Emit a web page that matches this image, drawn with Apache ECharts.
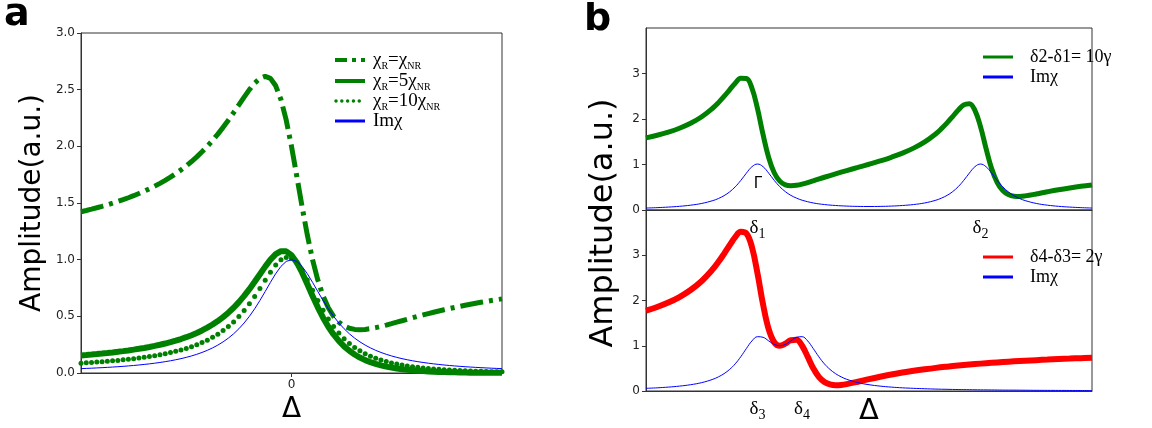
<!DOCTYPE html>
<html>
<head>
<meta charset="utf-8">
<script src="https://cdn.jsdelivr.net/npm/echarts@6/dist/echarts.min.js"></script>
<style>
html, body { margin: 0; padding: 0; background: #fff; }
#chart { width: 1152px; height: 428px; }
</style>
</head>
<body>
<div id="chart"></div>
<script>
// ---- panel a : detuning axis and the four curves
var xA = [-10,-9.75,-9.5,-9.25,-9,-8.75,-8.5,-8.25,-8,-7.75,-7.5,-7.25,-7,-6.75,-6.5,-6.25,-6,-5.75,-5.5,-5.25,
  -5,-4.75,-4.5,-4.25,-4,-3.75,-3.5,-3.25,-3,-2.75,-2.5,-2.25,-2,-1.75,-1.5,-1.25,-1,-0.75,-0.5,-0.25,
  0,0.25,0.5,0.75,1,1.25,1.5,1.75,2,2.25,2.5,2.75,3,3.25,3.5,3.75,4,4.25,4.5,4.75,
  5,5.25,5.5,5.75,6,6.25,6.5,6.75,7,7.25,7.5,7.75,8,8.25,8.5,8.75,9,9.25,9.5,9.75,10];
var aEqual = [1.4231,1.434,1.4456,1.4579,1.4707,1.4841,1.4985,1.5135,1.5294,1.5464,1.5644,1.5835,1.6039,1.6255,1.6487,1.6735,1.7,1.7285,1.7592,1.7921,
  1.8275,1.8658,1.9071,1.9519,2.0,2.0519,2.1078,2.1675,2.2307,2.2973,2.3658,2.4346,2.5,2.5576,2.6,2.6179,2.6,2.5343,2.4118,2.2308,
  2.0,1.7384,1.4706,1.2191,1.0,0.8203,0.68,0.5752,0.5,0.4482,0.4146,0.3945,0.3847,0.3819,0.3846,0.3911,0.4,0.4107,0.4227,0.4354,
  0.4483,0.4613,0.4744,0.4873,0.5,0.5123,0.5243,0.5359,0.5471,0.5579,0.5684,0.5784,0.5882,0.5975,0.6065,0.6153,0.6235,0.6315,0.6392,0.6468,0.6539];
var aFive = [0.1554,0.1591,0.163,0.1673,0.1718,0.1766,0.1817,0.1871,0.1929,0.1992,0.206,0.2133,0.2212,0.2297,0.2389,0.249,0.26,0.272,0.2853,0.2998,
  0.3158,0.3336,0.3533,0.3754,0.4,0.4276,0.4585,0.4933,0.5323,0.5762,0.6253,0.68,0.74,0.8046,0.872,0.9389,1.0,1.0482,1.0753,1.0738,
  1.04,0.9754,0.8871,0.7852,0.68,0.5793,0.488,0.4082,0.34,0.2828,0.2351,0.1956,0.1631,0.1361,0.1139,0.0954,0.08,0.0672,0.0564,0.0476,
  0.04,0.0336,0.0283,0.0238,0.02,0.0168,0.0141,0.0117,0.0098,0.0081,0.0068,0.0056,0.0047,0.0039,0.0033,0.0028,0.0024,0.0021,0.0018,0.0017,0.0016];
var aTen = [0.087,0.0898,0.0927,0.096,0.0995,0.1031,0.1071,0.1113,0.1159,0.1208,0.1262,0.132,0.1383,0.1452,0.1527,0.161,0.17,0.18,0.191,0.2032,
  0.2169,0.2321,0.2491,0.2684,0.29,0.3145,0.3424,0.374,0.41,0.451,0.4978,0.5507,0.61,0.6755,0.746,0.819,0.89,0.9525,0.9983,1.0192,
  1.01,0.97,0.9041,0.8209,0.73,0.6392,0.554,0.4773,0.41,0.3521,0.3026,0.2608,0.2254,0.1954,0.17,0.1485,0.13,0.1142,0.1007,0.0891,
  0.0789,0.0702,0.0626,0.0558,0.05,0.0448,0.0403,0.0362,0.0327,0.0294,0.0266,0.024,0.0217,0.0197,0.0179,0.0163,0.0147,0.0134,0.0121,0.011,0.01];
var aIm = [0.0385,0.0404,0.0424,0.0447,0.0471,0.0497,0.0525,0.0555,0.0588,0.0624,0.0664,0.0707,0.0755,0.0807,0.0865,0.0929,0.1,0.1079,0.1168,0.1267,
  0.1379,0.1506,0.1649,0.1813,0.2,0.2215,0.2462,0.2747,0.3077,0.3459,0.3902,0.4414,0.5,0.5664,0.64,0.7191,0.8,0.8767,0.9412,0.9846,
  1.0,0.9846,0.9412,0.8767,0.8,0.7191,0.64,0.5664,0.5,0.4414,0.3902,0.3459,0.3077,0.2747,0.2462,0.2215,0.2,0.1813,0.1649,0.1506,
  0.1379,0.1267,0.1168,0.1079,0.1,0.0929,0.0865,0.0807,0.0755,0.0707,0.0664,0.0624,0.0588,0.0555,0.0525,0.0497,0.0471,0.0447,0.0424,0.0404,0.0385];

// ---- panel b, upper : two far resonances
var xTop = [0,2.5,5,7.5,10,12.5,15,16.25,17.5,18.75,20,21.25,22.5,23.75,25,26.25,27.5,28.75,30,31.25,32.5,33.75,35,37.5,40,42.5,45,47.5,
  50,52.5,55,57.5,60,62.5,65,66.25,67.5,68.75,70,71.25,72.5,73.75,75,76.25,77.5,78.75,80,81.25,82.5,83.75,85,87.5,90,92.5,95,97.5,100];
var topAmp = [1.586,1.642,1.711,1.797,1.906,2.049,2.242,2.360,2.495,2.642,2.787,2.893,2.888,2.678,2.228,1.656,1.154,0.818,0.634,0.553,0.532,0.542,0.569,0.642,0.720,0.795,0.867,0.936,
  1.006,1.079,1.159,1.250,1.360,1.497,1.677,1.788,1.914,2.053,2.195,2.310,2.337,2.191,1.832,1.350,0.910,0.604,0.426,0.338,0.304,0.299,0.310,0.352,0.400,0.445,0.485,0.521,0.551];
var topIm = [0.043,0.052,0.064,0.081,0.106,0.144,0.207,0.253,0.315,0.398,0.508,0.649,0.809,0.951,1.010,0.952,0.811,0.652,0.512,0.403,0.321,0.261,0.215,0.155,0.120,0.099,0.086,0.079,
  0.077,0.079,0.086,0.099,0.120,0.155,0.215,0.261,0.321,0.403,0.512,0.652,0.811,0.952,1.010,0.951,0.809,0.649,0.508,0.398,0.315,0.253,0.207,0.144,0.106,0.081,0.064,0.052,0.043];

// ---- panel b, lower : two close resonances
var xBot = [0,2.5,5,7.5,10,12.5,15,16.25,17.5,18.75,20,21.25,22.5,23.75,25,26.25,27.5,28.75,30,31.25,32.5,33.75,35,36.25,37.5,38.75,40,41.25,42.5,43.75,45,
  47.5,50,52.5,55,57.5,60,62.5,65,67.5,70,72.5,75,77.5,80,82.5,85,87.5,90,92.5,95,97.5,100];
var botAmp = [1.775,1.856,1.954,2.076,2.231,2.431,2.694,2.854,3.032,3.221,3.400,3.518,3.483,3.183,2.600,1.912,1.369,1.078,1.000,1.047,1.123,1.130,1.000,0.758,0.504,0.313,0.200,0.146,0.129,0.135,0.153,
  0.205,0.262,0.315,0.364,0.408,0.446,0.480,0.511,0.538,0.563,0.585,0.605,0.624,0.640,0.655,0.669,0.682,0.694,0.706,0.716,0.726,0.735];
var botIm = [0.059,0.070,0.086,0.108,0.139,0.185,0.259,0.313,0.383,0.477,0.600,0.757,0.938,1.106,1.200,1.187,1.108,1.030,1.000,1.030,1.108,1.187,1.200,1.106,0.938,0.757,0.600,0.477,0.383,0.313,0.259,
  0.185,0.139,0.108,0.086,0.070,0.059,0.050,0.042,0.037,0.032,0.029,0.025,0.023,0.020,0.019,0.017,0.015,0.014,0.013,0.012,0.011,0.010];

// tick labels under panel b
var deltaTopPos = [25, 75], deltaTopSub = ['1', '2'];
var deltaBotPos = [25, 35], deltaBotSub = ['3', '4'];

var GREEN = '#008000', BLUE = '#0000ff', RED = '#ff0000';
var SANS = 'DejaVu Sans', SERIF = 'Liberation Serif';

function pairs(xs, ys) {
  return xs.map(function (x, i) { return [x, ys[i]]; });
}

var subRich = {
  d: { fontFamily: SERIF, fontSize: 19, lineHeight: 26, color: '#000' },
  s: { fontFamily: SERIF, fontSize: 14, lineHeight: 14, verticalAlign: 'bottom', color: '#000' }
};
var legRich = {
  n: { fontFamily: SERIF, fontSize: 19, lineHeight: 22, color: '#000' },
  s: { fontFamily: SERIF, fontSize: 10, lineHeight: 10, verticalAlign: 'bottom', color: '#000' }
};

function deltaAxis(grid, pos, subs, withName) {
  var ax = {
    gridIndex: grid, type: 'value', min: 0, max: 100,
    axisLine: { onZero: false, lineStyle: { color: '#333', width: 1 } },
    axisTick: { show: false },
    splitLine: { show: false },
    axisLabel: {
      customValues: pos, margin: 5,
      formatter: function (v) { return '{d|δ}{s|' + subs[pos.indexOf(v)] + '}'; },
      rich: subRich
    }
  };
  if (withName) {
    ax.name = 'Δ';
    ax.nameLocation = 'middle';
    ax.nameGap = 6;
    ax.nameMoveOverlap = false;
    ax.nameTextStyle = { fontFamily: SANS, fontSize: 29, color: '#000' };
  }
  return ax;
}

function ampAxis(grid) {
  return {
    gridIndex: grid, type: 'value', min: 0, max: 4, interval: 1,
    axisLine: { onZero: false, lineStyle: { color: '#333', width: 1 } },
    axisTick: { length: 4, lineStyle: { color: '#333' } },
    splitLine: { show: false },
    axisLabel: { showMaxLabel: false, fontFamily: SANS, fontSize: 12, color: '#222', margin: 6 }
  };
}

var chart = echarts.init(document.getElementById('chart'), null, { renderer: 'canvas' });

var gridBase = { show: true, borderColor: '#333', borderWidth: 1, containLabel: false, outerBoundsMode: 'none' };

var option = {
  animation: false,
  backgroundColor: '#fff',
  grid: [
    Object.assign({ left: 81, top: 33, width: 421, height: 340 }, gridBase),
    Object.assign({ left: 646, top: 28, width: 446, height: 182 }, gridBase),
    Object.assign({ left: 646, top: 210, width: 446, height: 181 }, gridBase)
  ],
  xAxis: [
    {
      gridIndex: 0, type: 'value', min: -10, max: 10,
      axisLine: { onZero: false, lineStyle: { color: '#333', width: 1 } },
      axisTick: { customValues: [0], length: 4, lineStyle: { color: '#333' } },
      splitLine: { show: false },
      axisLabel: { customValues: [0], fontFamily: SANS, fontSize: 12, color: '#222', margin: 6 },
      name: 'Δ', nameLocation: 'middle', nameGap: 23, nameMoveOverlap: false,
      nameTextStyle: { fontFamily: SANS, fontSize: 28, color: '#000' }
    },
    deltaAxis(1, deltaTopPos, deltaTopSub, false),
    deltaAxis(2, deltaBotPos, deltaBotSub, true)
  ],
  yAxis: [
    {
      gridIndex: 0, type: 'value', min: 0, max: 3, interval: 0.5,
      axisLine: { onZero: false, lineStyle: { color: '#333', width: 1 } },
      axisTick: { length: 4, lineStyle: { color: '#333' } },
      splitLine: { show: false },
      axisLabel: {
        fontFamily: SANS, fontSize: 12, color: '#222', margin: 6,
        formatter: function (v) { return v.toFixed(1); }
      },
      name: 'Amplitude(a.u.)', nameLocation: 'middle', nameGap: 34, nameRotate: 90, nameMoveOverlap: false,
      nameTextStyle: { fontFamily: SANS, fontSize: 28, color: '#000' }
    },
    ampAxis(1),
    ampAxis(2)
  ],
  series: [
    {
      name: 'chiR=chiNR', type: 'line', xAxisIndex: 0, yAxisIndex: 0, symbol: 'none',
      data: pairs(xA, aEqual),
      lineStyle: { color: GREEN, width: 5, type: [23, 6, 4, 6], cap: 'butt' }
    },
    {
      name: 'chiR=5chiNR', type: 'line', xAxisIndex: 0, yAxisIndex: 0, symbol: 'none',
      data: pairs(xA, aFive),
      lineStyle: { color: GREEN, width: 6 }
    },
    {
      name: 'chiR=10chiNR', type: 'scatter', xAxisIndex: 0, yAxisIndex: 0,
      symbol: 'circle', symbolSize: 5,
      data: pairs(xA, aTen),
      itemStyle: { color: GREEN, opacity: 1 }
    },
    {
      name: 'Im a', type: 'line', xAxisIndex: 0, yAxisIndex: 0, symbol: 'none',
      data: pairs(xA, aIm),
      lineStyle: { color: BLUE, width: 1 }
    },
    {
      name: 'd2-d1', type: 'line', xAxisIndex: 1, yAxisIndex: 1, symbol: 'none', smooth: 0.4,
      data: pairs(xTop, topAmp),
      lineStyle: { color: GREEN, width: 5 }
    },
    {
      name: 'Im top', type: 'line', xAxisIndex: 1, yAxisIndex: 1, symbol: 'none', smooth: 0.4,
      data: pairs(xTop, topIm),
      lineStyle: { color: BLUE, width: 1 }
    },
    {
      name: 'd4-d3', type: 'line', xAxisIndex: 2, yAxisIndex: 2, symbol: 'none', smooth: 0.4,
      data: pairs(xBot, botAmp),
      lineStyle: { color: RED, width: 6 }
    },
    {
      name: 'Im bottom', type: 'line', xAxisIndex: 2, yAxisIndex: 2, symbol: 'none', smooth: 0.4,
      data: pairs(xBot, botIm),
      lineStyle: { color: BLUE, width: 1 }
    }
  ],
  graphic: [
    // panel letters
    { type: 'text', x: 4, y: 15, style: { text: 'a', font: 'bold 38px "DejaVu Sans"', fill: '#000', verticalAlign: 'middle' } },
    { type: 'text', x: 584, y: 20, style: { text: 'b', font: 'bold 38px "DejaVu Sans"', fill: '#000', verticalAlign: 'middle' } },
    // shared y label of panel b
    { type: 'text', x: 604, y: 223, rotation: Math.PI / 2,
      style: { text: 'Amplitude(a.u.)', font: '32px "DejaVu Sans"', fill: '#000', align: 'center', verticalAlign: 'middle' } },
    { type: 'text', x: 758, y: 184, style: { text: 'Γ', font: '15px "DejaVu Sans"', fill: '#000', align: 'center', verticalAlign: 'middle' } },

    // legend of panel a
    { type: 'line', shape: { x1: 335, y1: 60, x2: 365, y2: 60 }, style: { stroke: GREEN, lineWidth: 4, lineDash: [12, 5, 4, 5] } },
    { type: 'text', x: 373, y: 60, style: { text: '{n|χ}{s|R}{n|=χ}{s|NR}', rich: legRich, verticalAlign: 'middle' } },
    { type: 'line', shape: { x1: 335, y1: 81, x2: 365, y2: 81 }, style: { stroke: GREEN, lineWidth: 4 } },
    { type: 'text', x: 373, y: 81, style: { text: '{n|χ}{s|R}{n|=5χ}{s|NR}', rich: legRich, verticalAlign: 'middle' } },
    { type: 'line', shape: { x1: 336, y1: 101, x2: 365, y2: 101 }, style: { stroke: GREEN, lineWidth: 3.5, lineDash: [0.01, 5.8], lineCap: 'round' } },
    { type: 'text', x: 373, y: 101, style: { text: '{n|χ}{s|R}{n|=10χ}{s|NR}', rich: legRich, verticalAlign: 'middle' } },
    { type: 'line', shape: { x1: 335, y1: 121, x2: 365, y2: 121 }, style: { stroke: BLUE, lineWidth: 3 } },
    { type: 'text', x: 373, y: 121, style: { text: 'Imχ', font: '19px "Liberation Serif"', fill: '#000', verticalAlign: 'middle' } },

    // legend of panel b, upper
    { type: 'line', shape: { x1: 983, y1: 57, x2: 1013, y2: 57 }, style: { stroke: GREEN, lineWidth: 3 } },
    { type: 'text', x: 1030, y: 57, style: { text: 'δ2-δ1= 10γ', font: '18px "Liberation Serif"', fill: '#000', verticalAlign: 'middle' } },
    { type: 'line', shape: { x1: 983, y1: 77, x2: 1013, y2: 77 }, style: { stroke: BLUE, lineWidth: 3 } },
    { type: 'text', x: 1030, y: 77, style: { text: 'Imχ', font: '18px "Liberation Serif"', fill: '#000', verticalAlign: 'middle' } },

    // legend of panel b, lower
    { type: 'line', shape: { x1: 983, y1: 257, x2: 1013, y2: 257 }, style: { stroke: RED, lineWidth: 3 } },
    { type: 'text', x: 1030, y: 257, style: { text: 'δ4-δ3= 2γ', font: '18px "Liberation Serif"', fill: '#000', verticalAlign: 'middle' } },
    { type: 'line', shape: { x1: 983, y1: 277, x2: 1013, y2: 277 }, style: { stroke: BLUE, lineWidth: 3 } },
    { type: 'text', x: 1030, y: 277, style: { text: 'Imχ', font: '18px "Liberation Serif"', fill: '#000', verticalAlign: 'middle' } }
  ]
};

chart.setOption(option);
</script>
</body>
</html>
